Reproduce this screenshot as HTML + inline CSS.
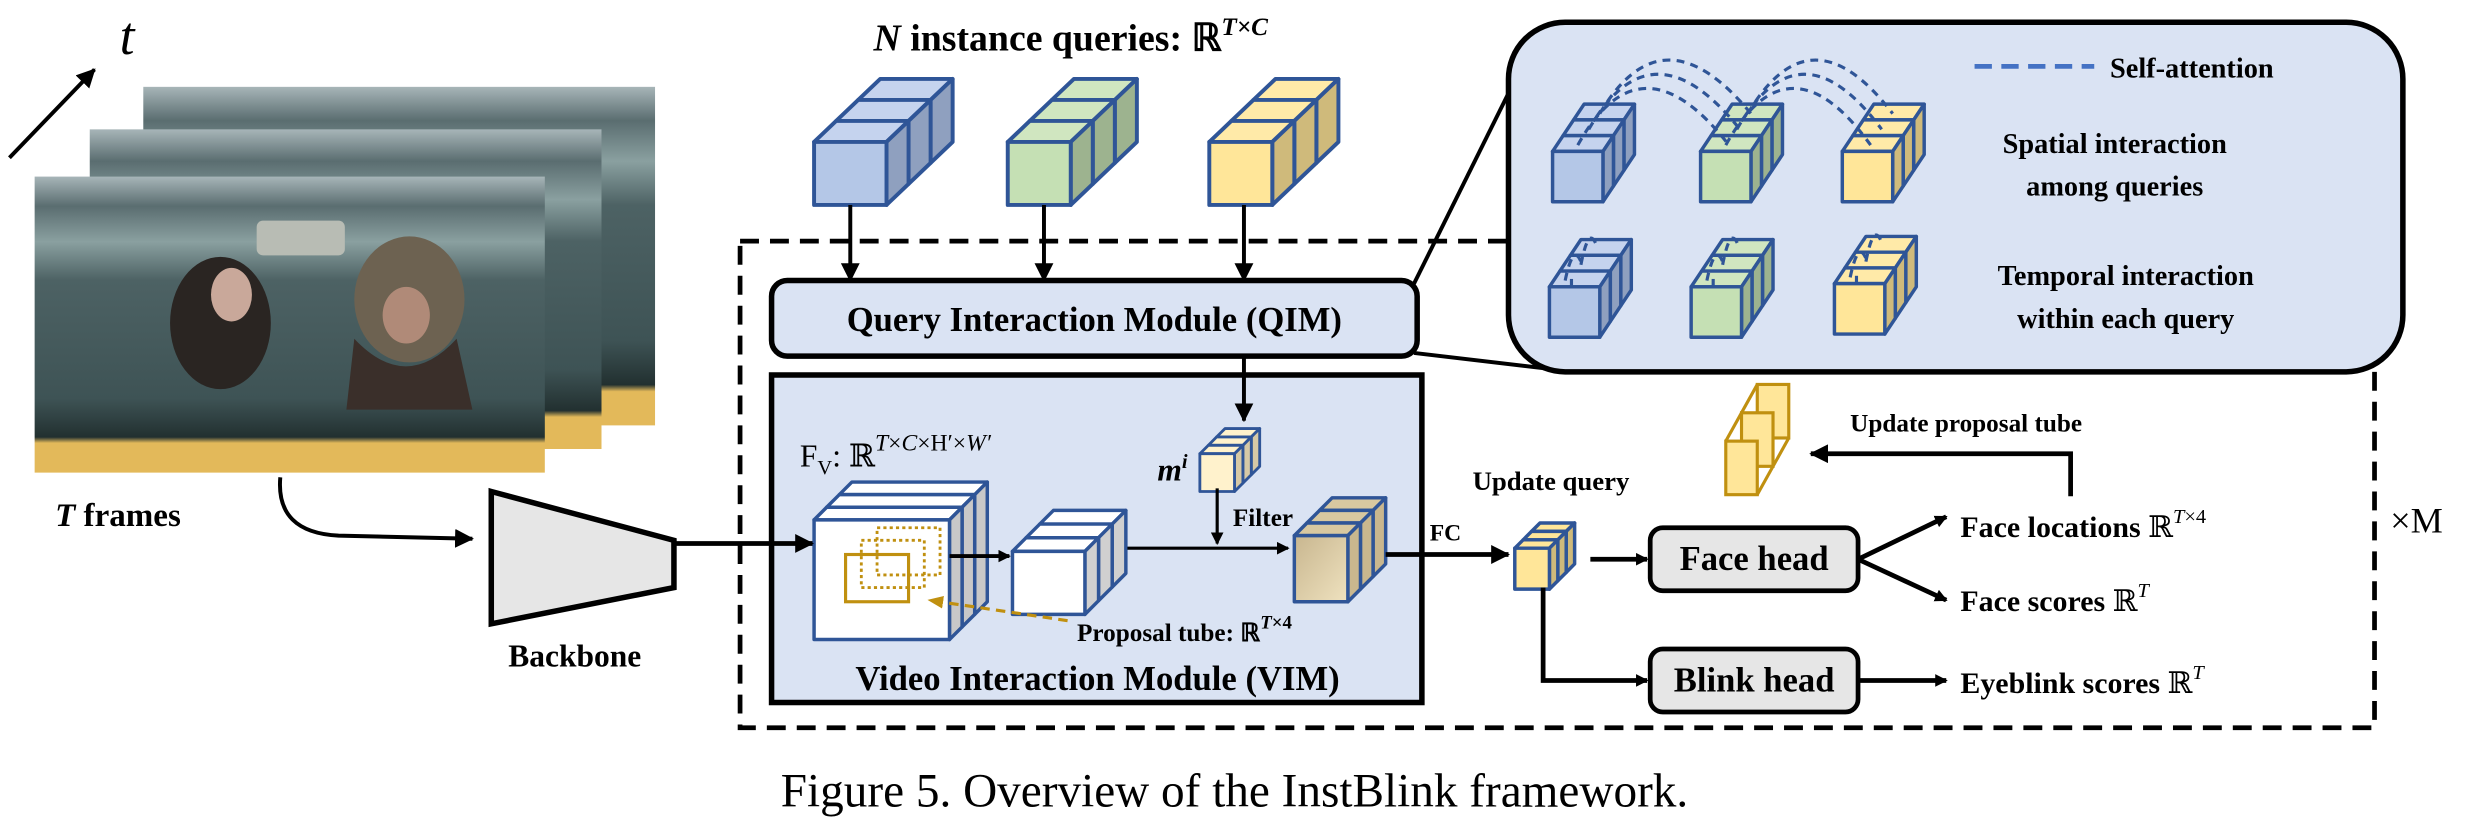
<!DOCTYPE html>
<html><head><meta charset="utf-8"><style>
html,body{margin:0;padding:0;background:#fff;}
svg{display:block;font-family:"Liberation Serif","DejaVu Serif",serif;}
text,tspan{font-family:"Liberation Serif","DejaVu Serif",serif;}
.b{font-weight:bold;font-family:"Liberation Serif","DejaVu Serif Condensed","DejaVu Serif",serif;}
</style></head><body>
<svg id="s" width="2469" height="824" viewBox="0 0 1568 523" xmlns="http://www.w3.org/2000/svg" font-family="Liberation Serif, serif">
<defs>
<marker id="ah" markerWidth="8" markerHeight="8" refX="7" refY="4" orient="auto" markerUnits="userSpaceOnUse"><path d="M0,0 L8,4 L0,8 z" fill="#000"/></marker>
<marker id="ah2" markerWidth="12" markerHeight="12" refX="11" refY="6" orient="auto" markerUnits="userSpaceOnUse"><path d="M0,0 L12,6 L0,12 z" fill="#000"/></marker>
<marker id="ao" markerWidth="10" markerHeight="10" refX="9" refY="5" orient="auto" markerUnits="userSpaceOnUse"><path d="M0,1 L10,5 L0,9 z" fill="#c09010"/></marker>
<linearGradient id="ph" x1="0" y1="0" x2="0" y2="1">
<stop offset="0" stop-color="#a7b5b8"/><stop offset="0.1" stop-color="#5a6d70"/><stop offset="0.22" stop-color="#8aa0a0"/><stop offset="0.35" stop-color="#4d6264"/><stop offset="0.75" stop-color="#3e5355"/><stop offset="0.88" stop-color="#223030"/><stop offset="0.9" stop-color="#e3b95a"/><stop offset="1" stop-color="#e3b95a"/>
</linearGradient>
<linearGradient id="tan" x1="0" y1="0" x2="1" y2="1"><stop offset="0" stop-color="#c8b68f"/><stop offset="1" stop-color="#efe2bf"/></linearGradient>
</defs>

<line x1="6" y1="100" x2="60" y2="44" stroke="#000" stroke-width="2.5" marker-end="url(#ah2)"/>
<text x="76" y="34" font-size="34" font-style="italic">t</text>

<rect x="91" y="55" width="325" height="215" fill="url(#ph)"/>
<rect x="57" y="82" width="325" height="203" fill="url(#ph)"/>
<rect x="22" y="112" width="324" height="188" fill="url(#ph)"/>
<rect x="163" y="140" width="56" height="22" rx="4" fill="#b8bcb4"/>
<ellipse cx="140" cy="205" rx="32" ry="42" fill="#2a2522"/>
<ellipse cx="147" cy="187" rx="13" ry="17" fill="#c9a89a"/>
<ellipse cx="260" cy="190" rx="35" ry="40" fill="#6d6251"/>
<ellipse cx="258" cy="200" rx="15" ry="18" fill="#b08a78"/>
<path d="M225,215 Q258,250 290,215 L300,260 L220,260 z" fill="#3a2f2a"/>

<text x="35" y="334" font-size="21" class="b"><tspan font-style="italic">T</tspan> frames</text>

<path d="M178,303 Q175,338 215,340 L300,342" fill="none" stroke="#000" stroke-width="2.5" marker-end="url(#ah2)"/>
<polygon points="312,312 428,343 428,373 312,396" fill="#e6e6e6" stroke="#000" stroke-width="3.5"/>
<text x="365" y="423" font-size="20" class="b" text-anchor="middle">Backbone</text>

<rect x="470" y="153" width="1038" height="309" fill="none" stroke="#000" stroke-width="3" stroke-dasharray="12,7"/>
<text x="1518" y="338" font-size="23">×M</text>

<text x="680" y="32" font-size="24" class="b" text-anchor="middle"><tspan font-style="italic">N</tspan> instance queries: ℝ<tspan font-size="16" dy="-10" font-style="italic">T×C</tspan></text>

<line x1="898" y1="180" x2="960" y2="55" stroke="#000" stroke-width="2.5"/>
<line x1="898" y1="224" x2="1000" y2="236" stroke="#000" stroke-width="2.5"/>
<rect x="958" y="14" width="568" height="222" rx="36" fill="#dae3f3" stroke="#000" stroke-width="3.5"/>
<line x1="1254" y1="42" x2="1330" y2="42" stroke="#4472c4" stroke-width="3" stroke-dasharray="11,6"/>
<text x="1340" y="49" font-size="18" class="b">Self-attention</text>
<text x="1343" y="97" font-size="18" class="b" text-anchor="middle">Spatial interaction</text>
<text x="1343" y="124" font-size="18" class="b" text-anchor="middle">among queries</text>
<text x="1350" y="181" font-size="18" class="b" text-anchor="middle">Temporal interaction</text>
<text x="1350" y="208" font-size="18" class="b" text-anchor="middle">within each query</text>

<rect x="490" y="178" width="410" height="48" rx="10" fill="#dae3f3" stroke="#000" stroke-width="3.5"/>
<text x="695" y="210" font-size="22" class="b" text-anchor="middle">Query Interaction Module (QIM)</text>
<line x1="540" y1="130" x2="540" y2="178" stroke="#000" stroke-width="2.5" marker-end="url(#ah2)"/>
<line x1="663" y1="130" x2="663" y2="178" stroke="#000" stroke-width="2.5" marker-end="url(#ah2)"/>
<line x1="790" y1="130" x2="790" y2="178" stroke="#000" stroke-width="2.5" marker-end="url(#ah2)"/>

<rect x="490" y="238" width="413" height="208" fill="#dae3f3" stroke="#000" stroke-width="3.5"/>
<text x="697" y="438" font-size="22" class="b" text-anchor="middle">Video Interaction Module (VIM)</text>
<text x="508" y="296" font-size="20">F<tspan font-size="13" dy="5">V</tspan><tspan dy="-5">: ℝ</tspan><tspan font-size="15" dy="-10" font-style="italic">T</tspan><tspan font-size="15">×</tspan><tspan font-size="15" font-style="italic">C</tspan><tspan font-size="15">×H′×</tspan><tspan font-size="15" font-style="italic">W′</tspan></text>

<g id="cubes"></g>

<line x1="428" y1="345" x2="516" y2="345" stroke="#000" stroke-width="3" marker-end="url(#ah2)"/>
<line x1="790" y1="226" x2="790" y2="267" stroke="#000" stroke-width="2.5" marker-end="url(#ah2)"/>
<text x="735" y="305" font-size="20" class="b" font-style="italic">m<tspan font-size="13" dy="-8">i</tspan></text>
<line x1="773" y1="310" x2="773" y2="345" stroke="#000" stroke-width="2" marker-end="url(#ah)"/>
<text x="783" y="334" font-size="16" class="b">Filter</text>
<line x1="603" y1="353" x2="641" y2="353" stroke="#000" stroke-width="2.5" marker-end="url(#ah)"/>
<line x1="716" y1="348" x2="818" y2="348" stroke="#000" stroke-width="2" marker-end="url(#ah)"/>
<line x1="880" y1="352" x2="958" y2="352" stroke="#000" stroke-width="3" marker-end="url(#ah2)"/>
<text x="918" y="343" font-size="15" class="b" text-anchor="middle">FC</text>
<text x="985" y="311" font-size="17" class="b" text-anchor="middle">Update query</text>
<line x1="678" y1="394" x2="590" y2="381" stroke="#c09010" stroke-width="2" stroke-dasharray="6,4" marker-end="url(#ao)"/>
<text x="684" y="407" font-size="16" class="b">Proposal tube: ℝ<tspan font-size="12" dy="-8" font-style="italic">T</tspan><tspan font-size="12">×4</tspan></text>

<line x1="1010" y1="355" x2="1046" y2="355" stroke="#000" stroke-width="3" marker-end="url(#ah)"/>
<rect x="1048" y="335" width="132" height="40" rx="8" fill="#e6e6e6" stroke="#000" stroke-width="3"/>
<text x="1114" y="362" font-size="22" class="b" text-anchor="middle">Face head</text>
<polyline points="980,373 980,432 1046,432" fill="none" stroke="#000" stroke-width="3" marker-end="url(#ah)"/>
<rect x="1048" y="412" width="132" height="40" rx="8" fill="#e6e6e6" stroke="#000" stroke-width="3"/>
<text x="1114" y="439" font-size="22" class="b" text-anchor="middle">Blink head</text>
<line x1="1180" y1="355" x2="1236" y2="328" stroke="#000" stroke-width="3" marker-end="url(#ah)"/>
<line x1="1180" y1="355" x2="1236" y2="381" stroke="#000" stroke-width="3" marker-end="url(#ah)"/>
<line x1="1180" y1="432" x2="1236" y2="432" stroke="#000" stroke-width="3" marker-end="url(#ah)"/>
<text x="1245" y="341" font-size="19" class="b">Face locations  <tspan font-weight="normal">ℝ</tspan><tspan font-weight="normal" font-size="13" dy="-9" font-style="italic">T</tspan><tspan font-weight="normal" font-size="13">×4</tspan></text>
<text x="1245" y="388" font-size="19" class="b">Face scores  <tspan font-weight="normal">ℝ</tspan><tspan font-weight="normal" font-size="13" dy="-9" font-style="italic">T</tspan></text>
<text x="1245" y="440" font-size="19" class="b">Eyeblink scores  <tspan font-weight="normal">ℝ</tspan><tspan font-weight="normal" font-size="13" dy="-9" font-style="italic">T</tspan></text>
<polyline points="1315,315 1315,288 1150,288" fill="none" stroke="#000" stroke-width="3" marker-end="url(#ah2)"/>
<text x="1175" y="274" font-size="16" class="b">Update proposal tube</text>

<g fill="#ffe699" stroke="#c09010" stroke-width="2">
<rect x="1116" y="244" width="20" height="34"/>
<rect x="1106" y="262" width="20" height="34"/>
<rect x="1096" y="280" width="20" height="34"/>
<line x1="1096" y1="280" x2="1116" y2="244"/><line x1="1116" y1="314" x2="1136" y2="278"/>
</g>

<g id="arcs" fill="none" stroke="#2f5597" stroke-width="2" stroke-dasharray="5,4"></g>

<text x="784" y="512" font-size="30" text-anchor="middle">Figure 5. Overview of the InstBlink framework.</text>
</svg>
<script>
var NS="http://www.w3.org/2000/svg",g=document.getElementById("cubes");
function P(pts,f,s,w,par){var p=document.createElementNS(NS,"polygon");p.setAttribute("points",pts.map(function(a){return a[0]+","+a[1]}).join(" "));p.setAttribute("fill",f);p.setAttribute("stroke",s);p.setAttribute("stroke-width",w);p.setAttribute("stroke-linejoin","round");(par||g).appendChild(p);}
function cube(x,y,w,h,dx,dy,fr,tp,sd,st,sw){st=st||"#2f5597";sw=sw||2.5;var n=3;
for(var i=n-1;i>=0;i--){var ax=dx*i/n,bx=dx*(i+1)/n,ay=dy*i/n,by=dy*(i+1)/n;
P([[x+ax,y-ay],[x+w+ax,y-ay],[x+w+bx,y-by],[x+bx,y-by]],tp,st,sw);
P([[x+w+ax,y-ay],[x+w+bx,y-by],[x+w+bx,y+h-by],[x+w+ax,y+h-ay]],sd,st,sw);}
P([[x,y],[x+w,y],[x+w,y+h],[x,y+h]],fr,st,sw);}
var B=["#b4c7e7","#c5d3ee","#8fa0bf"],G=["#c5e0b4","#d0e6c0","#9db38f"],Y=["#ffe699","#ffeaa8","#cfba7b"];
var q=document.createElementNS(NS,"g");document.getElementById("s").insertBefore(q,document.getElementById("s").querySelector("rect[x='490']"));
function cubeQ(){var old=g;g=q;cube.apply(null,arguments);g=old;}
cubeQ(517,90,46,40,42,40,B[0],B[1],B[2]);
cubeQ(640,90,40,40,42,40,G[0],G[1],G[2]);
cubeQ(768,90,40,40,42,40,Y[0],Y[1],Y[2]);
cubeQ(986,96,32,32,20,30,B[0],B[1],B[2],null,2.2);
cubeQ(1080,96,32,32,20,30,G[0],G[1],G[2],null,2.2);
cubeQ(1170,96,32,32,20,30,Y[0],Y[1],Y[2],null,2.2);
cubeQ(984,182,32,32,20,30,B[0],B[1],B[2],null,2.2);
cubeQ(1074,182,32,32,20,30,G[0],G[1],G[2],null,2.2);
cubeQ(1165,180,32,32,20,30,Y[0],Y[1],Y[2],null,2.2);
cube(517,330,86,76,24,24,"#ffffff","#ffffff","#c8c8c8","#2f5597",2.2);
cube(762,288,22,24,16,16,"#fff2cc","#fff2cc","#d6c9a6","#2f5597",1.8);
cube(643,350,46,40,26,26,"#ffffff","#ffffff","#d0d0d0","#2f5597",2.2);
cube(822,340,34,42,24,24,"url(#tan)","#d8c8a0","#c9b78e","#2f5597",2.2);
cube(962,348,22,26,16,16,"#ffe699","#ffe699","#cfba7b","#2f5597",2.2);
var r1=document.createElementNS(NS,"rect");r1.setAttribute("x",537);r1.setAttribute("y",352);r1.setAttribute("width",40);r1.setAttribute("height",30);r1.setAttribute("fill","none");r1.setAttribute("stroke","#c09010");r1.setAttribute("stroke-width",2);g.appendChild(r1);
[[547,343],[557,335]].forEach(function(o){var r=document.createElementNS(NS,"rect");r.setAttribute("x",o[0]);r.setAttribute("y",o[1]);r.setAttribute("width",40);r.setAttribute("height",30);r.setAttribute("fill","none");r.setAttribute("stroke","#c09010");r.setAttribute("stroke-width",1.8);r.setAttribute("stroke-dasharray","2,2");g.appendChild(r);});
var A=document.getElementById("arcs");
function arc(d){var p=document.createElementNS(NS,"path");p.setAttribute("d",d);A.appendChild(p);}
[0,1,2].forEach(function(i){var sx=992+i*7+10,sy=92-i*10;
arc("M"+sx+","+sy+" Q"+(sx+40)+","+(20-i*8)+" "+(1088+i*7+10)+","+(92-i*10));
arc("M"+(sx+94)+","+sy+" Q"+(sx+134)+","+(20-i*8)+" "+(1178+i*7+10)+","+(92-i*10));});
[[984,182],[1074,182],[1165,180]].forEach(function(c){
arc("M"+(c[0]+10)+","+(c[1]-4)+" Q"+(c[0]+15)+","+(c[1]-28)+" "+(c[0]+20)+","+(c[1]-16));
arc("M"+(c[0]+20)+","+(c[1]-14)+" Q"+(c[0]+25)+","+(c[1]-40)+" "+(c[0]+30)+","+(c[1]-26));
arc("M"+(c[0]+14)+","+(c[1])+" L"+(c[0]+14)+","+(c[1]-8));
});
</script>
</body></html>
